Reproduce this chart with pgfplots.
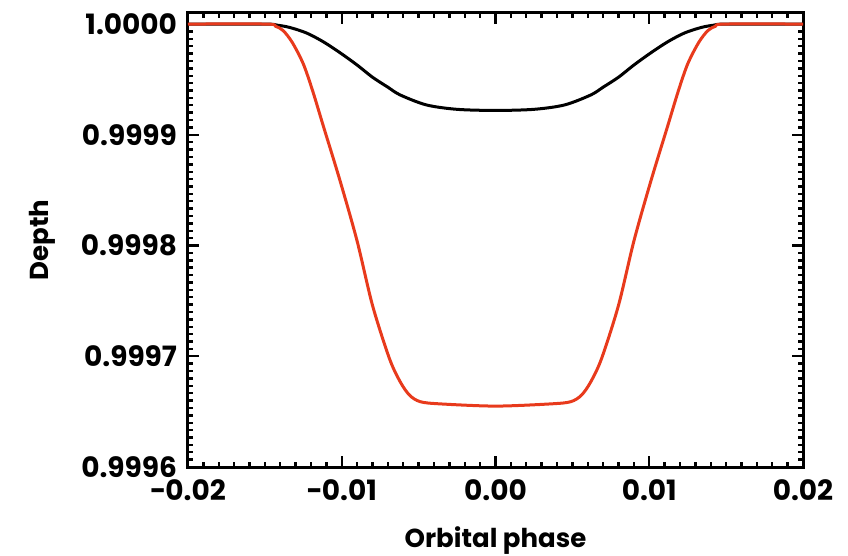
\documentclass[border=0pt]{standalone}
\usepackage{pgfplots}
\pgfplotsset{compat=1.18}
\usepackage{fontspec}
\setmainfont{Poppins}
\definecolor{transred}{RGB}{232,58,28}

\begin{document}
\begin{tikzpicture}
\begin{axis}[
  scale only axis, width=307.5pt, height=227pt,
  xmin=-0.02, xmax=0.02, ymin=0.9996, ymax=1.00001,
  axis line style={line width=1.5pt},
  every tick/.style={black, line width=1.2pt},
  tick align=inside, xtick pos=both, ytick pos=both,
  major tick length=5.5pt, minor tick length=2.5pt,
  xtick={-0.02,-0.01,0,0.01,0.02},
  xticklabels={−0.02,−0.01,0.00,0.01,0.02},
  minor x tick num=9,
  ytick={0.9996,0.9997,0.9998,0.9999,1.0},
  yticklabels={0.9996,0.9997,0.9998,0.9999,1.0000},
  minor y tick num=14,
  scaled ticks=false,
  tick label style={font=\fontsize{14}{17}\selectfont\bfseries},
  xticklabel style={yshift=-3pt},
  yticklabel style={xshift=-2pt},
  xlabel={Orbital phase}, ylabel={Depth},
  label style={font=\fontsize{13}{16}\selectfont\bfseries},
  xlabel style={yshift=-6pt},
  ylabel style={yshift=6pt},
  clip=false,
]
% black: shallow transit
\addplot[black, line width=1.5pt, smooth] coordinates {
 (-0.0200,1.000000) (-0.0150,1.000000) (-0.0142,0.999999) (-0.0134,0.999997)
 (-0.0123,0.999992) (-0.0112,0.999984) (-0.0101,0.999974) (-0.0090,0.999963)
 (-0.0080,0.999952) (-0.0070,0.999943) (-0.0062,0.999936) (-0.0045,0.999927)
 (-0.0025,0.999923) (0.0000,0.999922)
 (0.0025,0.999923) (0.0045,0.999927) (0.0062,0.999936) (0.0070,0.999943)
 (0.0080,0.999952) (0.0090,0.999963) (0.0101,0.999974) (0.0112,0.999984)
 (0.0123,0.999992) (0.0134,0.999997) (0.0142,0.999999) (0.0150,1.000000)
 (0.0200,1.000000)
};
% red: deep transit
\addplot[transred, line width=1.5pt, smooth] coordinates {
 (-0.0200,1.000000) (-0.0149,1.000000) (-0.0143,0.999998) (-0.0138,0.999994)
 (-0.0132,0.999983) (-0.0125,0.999964) (-0.0119,0.999940) (-0.0112,0.999908)
 (-0.0101,0.999858) (-0.0090,0.999804) (-0.0080,0.999746) (-0.0069,0.999698)
 (-0.0062,0.999677) (-0.0056,0.999665) (-0.0049,0.999659) (-0.0036,0.999657)
 (0.0000,0.999655) (0.0036,0.999657) (0.0049,0.999659) (0.0056,0.999665)
 (0.0062,0.999677) (0.0069,0.999698) (0.0080,0.999746) (0.0090,0.999804)
 (0.0101,0.999858) (0.0112,0.999908) (0.0119,0.999940) (0.0125,0.999964)
 (0.0132,0.999983) (0.0138,0.999994) (0.0143,0.999998) (0.0149,1.000000)
 (0.0200,1.000000)
};
\coordinate (sw) at (rel axis cs:0,0);
\coordinate (ne) at (rel axis cs:1,1);
\end{axis}
\pgfresetboundingbox
\path ([shift={(-94pt,-44pt)}]sw) rectangle ([shift={(22.5pt,6.5pt)}]ne);
\end{tikzpicture}
\end{document}
